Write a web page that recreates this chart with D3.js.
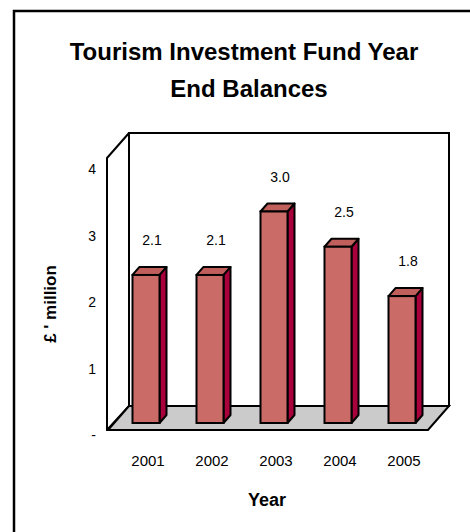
<!DOCTYPE html>
<html>
<head>
<meta charset="utf-8">
<script src="https://cdn.jsdelivr.net/npm/d3@7"></script>
<style>
  body { margin: 0; background: #fff; }
  text { font-family: "Liberation Sans", Arial, sans-serif; fill: #000; }
</style>
</head>
<body>
<svg id="chart" width="470" height="532"></svg>
<script>
// data
const years = ["2001", "2002", "2003", "2004", "2005"]
const balances = [2.1, 2.1, 3.0, 2.5, 1.8]
const labels = ["2.1", "2.1", "3.0", "2.5", "1.8"]
const tickValues = [0, 1, 2, 3, 4]
const tickLabels = ["-", "1", "2", "3", "4"]

var svg = d3.select("#chart")

// outer frame
svg.append("rect")
    .attr("x", 14).attr("y", 11)
    .attr("width", 480).attr("height", 540)
    .attr("fill", "none").attr("stroke", "#000").attr("stroke-width", 2.5)

// title
var title = svg.append("text")
    .attr("text-anchor", "middle")
    .style("font-size", "24px")
    .style("font-weight", "bold")
title.append("tspan").attr("x", 244).attr("y", 60).text("Tourism Investment Fund Year")
title.append("tspan").attr("x", 249).attr("y", 97).text("End Balances")

// 3d box: floor front edge, wall depth offset
const frontL = 108, frontR = 428, frontY = 430
const dx = 21, dy = -24
const wallTop = 133

// back wall
svg.append("rect")
    .attr("x", frontL + dx).attr("y", wallTop)
    .attr("width", frontR - frontL).attr("height", frontY + dy - wallTop)
    .attr("fill", "#fff").attr("stroke", "#000").attr("stroke-width", 2)

// side wall
svg.append("polygon")
    .attr("points", [[frontL - 1, wallTop - dy + 1], [frontL + dx, wallTop], [frontL + dx, frontY + dy], [frontL - 1, frontY]].join(" "))
    .attr("fill", "#fff").attr("stroke", "#000").attr("stroke-width", 2).attr("stroke-linejoin", "round")

// floor
svg.append("polygon")
    .attr("points", [[frontL, frontY], [frontR, frontY], [frontR + dx, frontY + dy], [frontL + dx, frontY + dy]].join(" "))
    .attr("fill", "#cbcbcb").attr("stroke", "#000").attr("stroke-width", 2)

// scales
var x = d3.scaleBand()
    .domain(years)
    .range([114, 434])

var yBar = d3.scaleLinear()
    .domain([0, 4])
    .range([423, 141])

var yTick = d3.scaleLinear()
    .domain([0, 4])
    .range([435, 169])

// y tick labels
svg.append("g").selectAll("text")
    .data(tickValues)
    .enter()
    .append("text")
    .attr("x", 96)
    .attr("y", d => yTick(d) + 5)
    .attr("text-anchor", "end")
    .style("font-size", "14px")
    .text((d, i) => tickLabels[i])

// y axis title
svg.append("text")
    .attr("transform", "translate(56,304) rotate(-90)")
    .attr("text-anchor", "middle")
    .style("font-size", "17px")
    .style("font-weight", "bold")
    .text("£ ' million")

// bars
const barW = 27, bdx = 7, bdy = -8
var bars = svg.append("g").selectAll("g")
    .data(balances)
    .enter()
    .append("g")

function x0(i) { return x(years[i]) + x.bandwidth() / 2 - barW / 2 }

// side face
bars.append("polygon")
    .attr("points", function (d, i) {
        var l = x0(i) + barW, t = yBar(d), b = yBar(0)
        return [[l, t], [l + bdx, t + bdy], [l + bdx, b + bdy], [l, b]].join(" ")
    })
    .attr("fill", "#a8003b").attr("stroke", "#000").attr("stroke-width", 2).attr("stroke-linejoin", "round")

// top face
bars.append("polygon")
    .attr("points", function (d, i) {
        var l = x0(i), t = yBar(d)
        return [[l, t], [l + bdx, t + bdy], [l + barW + bdx, t + bdy], [l + barW, t]].join(" ")
    })
    .attr("fill", "#c05f5b").attr("stroke", "#000").attr("stroke-width", 2).attr("stroke-linejoin", "round")

// front face
bars.append("rect")
    .attr("x", (d, i) => x0(i))
    .attr("y", d => yBar(d))
    .attr("width", barW)
    .attr("height", d => yBar(0) - yBar(d))
    .attr("fill", "#cb6b67").attr("stroke", "#000").attr("stroke-width", 2)

// value labels
svg.append("g").selectAll("text")
    .data(balances)
    .enter()
    .append("text")
    .attr("x", (d, i) => x(years[i]) + x.bandwidth() / 2 + 6)
    .attr("y", d => yBar(d) - 30)
    .attr("text-anchor", "middle")
    .style("font-size", "14px")
    .text((d, i) => labels[i])

// year labels
svg.append("g").selectAll("text")
    .data(years)
    .enter()
    .append("text")
    .attr("x", d => x(d) + x.bandwidth() / 2 + 2)
    .attr("y", 466)
    .attr("text-anchor", "middle")
    .style("font-size", "15px")
    .text(d => d)

svg.append("text")
    .attr("x", 267).attr("y", 506)
    .attr("text-anchor", "middle")
    .style("font-size", "18px")
    .style("font-weight", "bold")
    .text("Year")
</script>
</body>
</html>
